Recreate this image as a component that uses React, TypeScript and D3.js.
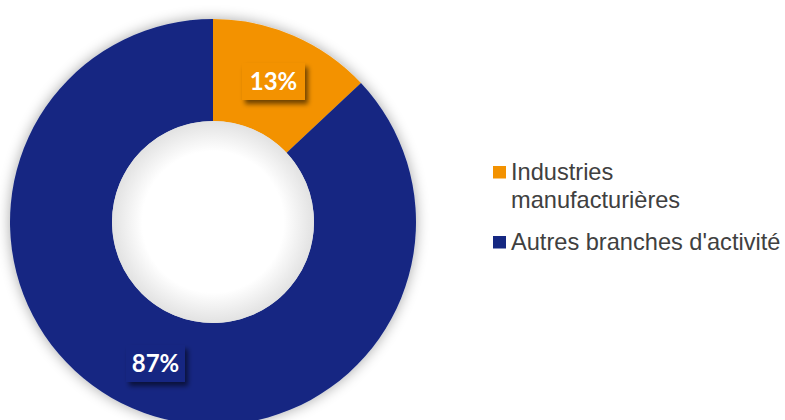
import React from "react";
import * as d3 from "d3";

const categories = ["Industries manufacturières", "Autres branches d'activité"];
const legendLines = [["Industries", "manufacturières"], ["Autres branches d'activité"]];
const values = [13, 87];
const labels = ["13%", "87%"];
const colors = ["#f39200", "#152882"];

export default function App() {
  const W = 785, H = 420;
  const cx = 213, cy = 222, R = 203, r = 101;
  const pie = d3.pie<number>().sort(null).value((d) => d)(values);
  const arc = d3.arc<d3.PieArcDatum<number>>().innerRadius(r).outerRadius(R);
  const labelPos: [number, number][] = [
    [273.5 - cx, 81.5 - cy],
    [155.5 - cx, 363.5 - cy],
  ];
  const boxW = [63, 59];
  return (
    <div style={{ position: "absolute", left: 0, top: 0 }}>
      <svg width={W} height={H} style={{ display: "block" }}>
        <defs>
          <filter id="outerShadow" x="-20%" y="-20%" width="140%" height="140%">
            <feGaussianBlur in="SourceAlpha" stdDeviation="7" />
            <feComponentTransfer>
              <feFuncA type="linear" slope="0.35" />
            </feComponentTransfer>
            <feMerge>
              <feMergeNode />
              <feMergeNode in="SourceGraphic" />
            </feMerge>
          </filter>
          <filter id="boxShadow" x="-30%" y="-30%" width="170%" height="180%">
            <feGaussianBlur in="SourceAlpha" stdDeviation="2.5" />
            <feOffset dx="3" dy="4" result="ob" />
            <feComponentTransfer>
              <feFuncA type="linear" slope="0.55" />
            </feComponentTransfer>
            <feMerge>
              <feMergeNode />
              <feMergeNode in="SourceGraphic" />
            </feMerge>
          </filter>
          <radialGradient id="holeGrad" cx="50%" cy="50%" r="50%">
            <stop offset="0%" stopColor="#ffffff" />
            <stop offset="70%" stopColor="#ffffff" />
            <stop offset="100%" stopColor="#e2e2e2" />
          </radialGradient>
        </defs>
        <g transform={`translate(${cx},${cy})`}>
          <g filter="url(#outerShadow)">
            {pie.map((p, i) => (
              <path key={i} d={arc(p) || ""} fill={colors[i]} />
            ))}
          </g>
          <circle r={r} fill="url(#holeGrad)" />
          {pie.map((p, i) => {
            const [x, y] = labelPos[i];
            return (
              <g key={"l" + i} transform={`translate(${x},${y})`}>
                <rect
                  x={-boxW[i] / 2}
                  y={-18.5}
                  width={boxW[i]}
                  height={37}
                  fill={colors[i]}
                  filter="url(#boxShadow)"
                />
                <text
                  textAnchor="middle"
                  dy="0.36em"
                  fill="#ffffff"
                  fontFamily="Lato, 'Open Sans', sans-serif"
                  fontWeight="bold"
                  fontSize={24}
                >
                  {labels[i]}
                </text>
              </g>
            );
          })}
        </g>
        <g fontFamily="'Liberation Sans', Arial, sans-serif" fontSize={23.6} fill="#404040">
          {categories.map((c, i) => {
            const y0 = i === 0 ? 180 : 250;
            return (
              <g key={c}>
                <rect x={493} y={y0 - 14} width={13} height={12.5} fill={colors[i]} />
                <text x={511} y={y0}>
                  {legendLines[i].map((ln, j) => (
                    <tspan key={j} x={511} y={y0 + j * 28}>
                      {ln}
                    </tspan>
                  ))}
                </text>
              </g>
            );
          })}
        </g>
      </svg>
    </div>
  );
}
